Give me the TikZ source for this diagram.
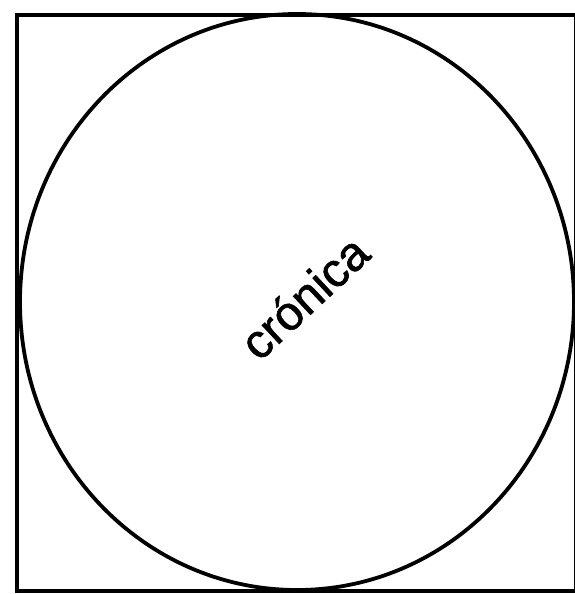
\documentclass[tikz,border=0pt]{standalone}
\usepackage{fontspec}
\setmainfont{Liberation Sans}
\newfontfamily\labelfont[FakeBold=1.2]{Liberation Sans}
\begin{document}
\begin{tikzpicture}[x=1pt,y=-1pt,
  outline/.style={draw=black,line width=3.8pt},
  label/.style={font=\labelfont\fontsize{48}{52}\selectfont,rotate=43,inner sep=0pt}]
\useasboundingbox[fill=white] (0,0) rectangle (574,594);
\draw[outline] (17,15) rectangle (576,591);
\draw[outline] (297,302) ellipse [x radius=277, y radius=288];
\node[label] (t) at (304,297) {crónica};
\end{tikzpicture}
\end{document}
